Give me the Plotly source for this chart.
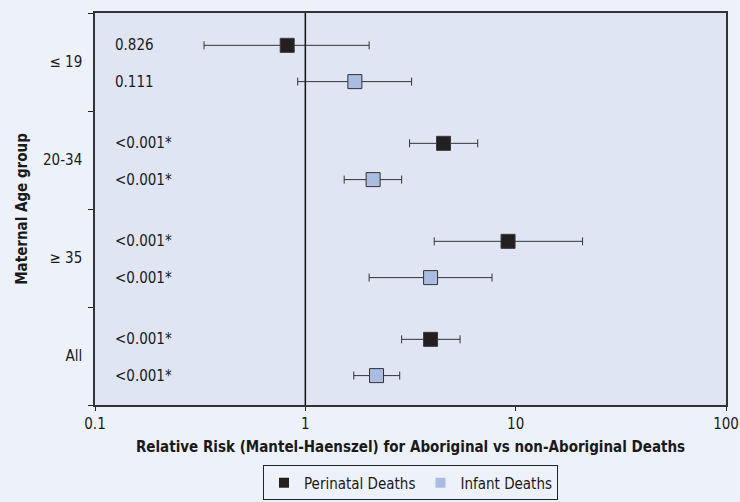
import plotly.graph_objects as go

# Maternal age groups, top to bottom
groups = ["\u2264 19", "20-34", "\u2265 35", "All"]

# Relative risk (Mantel-Haenszel) with 95% confidence limits
perinatal_rr = [0.82, 4.54, 9.2, 3.94]
perinatal_lo = [0.33, 3.13, 4.10, 2.87]
perinatal_hi = [2.01, 6.60, 20.8, 5.44]
perinatal_p = ["0.826", "<0.001*", "<0.001*", "<0.001*"]

infant_rr = [1.72, 2.10, 3.94, 2.18]
infant_lo = [0.92, 1.53, 2.01, 1.70]
infant_hi = [3.20, 2.87, 7.72, 2.81]
infant_p = ["0.111", "<0.001*", "<0.001*", "<0.001*"]

x_ticks = [0.1, 1, 10, 100]

FONT = "DejaVu Sans Condensed, Liberation Sans Narrow, sans-serif"
PERI_COLOR = "#231f20"
INF_COLOR = "#aabcdf"
n = len(groups)
# each group occupies two y units; group 0 at the top
base = [2 * (n - 1 - i) for i in range(n)]
y_peri = [b + 1.34 for b in base]
y_inf = [b + 0.60 for b in base]
centers = [b + 1 for b in base]

fig = go.Figure()

fig.add_trace(go.Scatter(
    x=perinatal_rr, y=y_peri, mode="markers", name="Perinatal Deaths",
    showlegend=False,
    marker=dict(symbol="square", size=14, color=PERI_COLOR,
                line=dict(color="#3a3a3a", width=1)),
    error_x=dict(type="data", symmetric=False,
                 array=[h - r for h, r in zip(perinatal_hi, perinatal_rr)],
                 arrayminus=[r - l for r, l in zip(perinatal_rr, perinatal_lo)],
                 color="#333333", thickness=1, width=4),
))
fig.add_trace(go.Scatter(
    x=infant_rr, y=y_inf, mode="markers", name="Infant Deaths",
    showlegend=False,
    marker=dict(symbol="square", size=14, color=INF_COLOR,
                line=dict(color="#333333", width=1)),
    error_x=dict(type="data", symmetric=False,
                 array=[h - r for h, r in zip(infant_hi, infant_rr)],
                 arrayminus=[r - l for r, l in zip(infant_rr, infant_lo)],
                 color="#333333", thickness=1, width=4),
))

# legend keys with smaller swatches
for name, col in [("Perinatal Deaths", PERI_COLOR), ("Infant Deaths", INF_COLOR)]:
    fig.add_trace(go.Scatter(
        x=[None], y=[None], mode="markers", name=name,
        marker=dict(symbol="square", size=10, color=col, line=dict(width=0)),
    ))

# p-value labels at the left of the plot area
for yv, txt in list(zip(y_peri, perinatal_p)) + list(zip(y_inf, infant_p)):
    fig.add_annotation(x=0.029, xref="paper", y=yv, yref="y", text=txt,
                       showarrow=False, xanchor="left", yanchor="middle",
                       font=dict(family=FONT, size=15, color="#1a1a1a"))

# reference line at RR = 1
fig.add_shape(type="line", x0=1, x1=1, y0=0, y1=2 * n, xref="x", yref="y",
              line=dict(color="#111111", width=1.5))

fig.update_layout(
    width=740, height=502,
    margin=dict(l=95, r=14, t=13, b=97, autoexpand=False),
    paper_bgcolor="#edf1f9",
    plot_bgcolor="#dfe5f3",
    font=dict(family=FONT, size=15, color="#1a1a1a"),
    showlegend=True,
    legend=dict(orientation="h", x=0.5, xanchor="center",
                y=0.003, yref="container", yanchor="bottom",
                bgcolor="#edf1f9", bordercolor="#222222", borderwidth=1,
                font=dict(family=FONT, size=15), itemwidth=30,
                tracegroupgap=0),
)

fig.update_xaxes(
    type="log", range=[-1, 2],
    tickvals=x_ticks, ticktext=[str(v) for v in x_ticks],
    ticks="outside", ticklen=4, tickcolor="#222222",
    showgrid=False, zeroline=False,
    showline=True, linecolor="#333333", linewidth=1.5, mirror=True,
    tickfont=dict(family=FONT, size=15),
    title=dict(text="<b>Relative Risk (Mantel-Haenszel) for Aboriginal vs non-Aboriginal Deaths</b>",
               font=dict(family=FONT, size=15), standoff=10),
)
fig.update_yaxes(
    range=[0, 2 * n],
    tickvals=centers, ticktext=groups, ticks="",
    ticklabelstandoff=8,
    minor=dict(tickmode="array", tickvals=[2 * i for i in range(n + 1)],
               ticks="outside", ticklen=5, tickcolor="#222222", showgrid=False),
    showgrid=False, zeroline=False,
    showline=True, linecolor="#333333", linewidth=1.5, mirror=True,
    tickfont=dict(family=FONT, size=15),
    title=dict(text="<b>Maternal Age group</b>", font=dict(family=FONT, size=15),
               standoff=12),
)

fig.write_html("out.html")
